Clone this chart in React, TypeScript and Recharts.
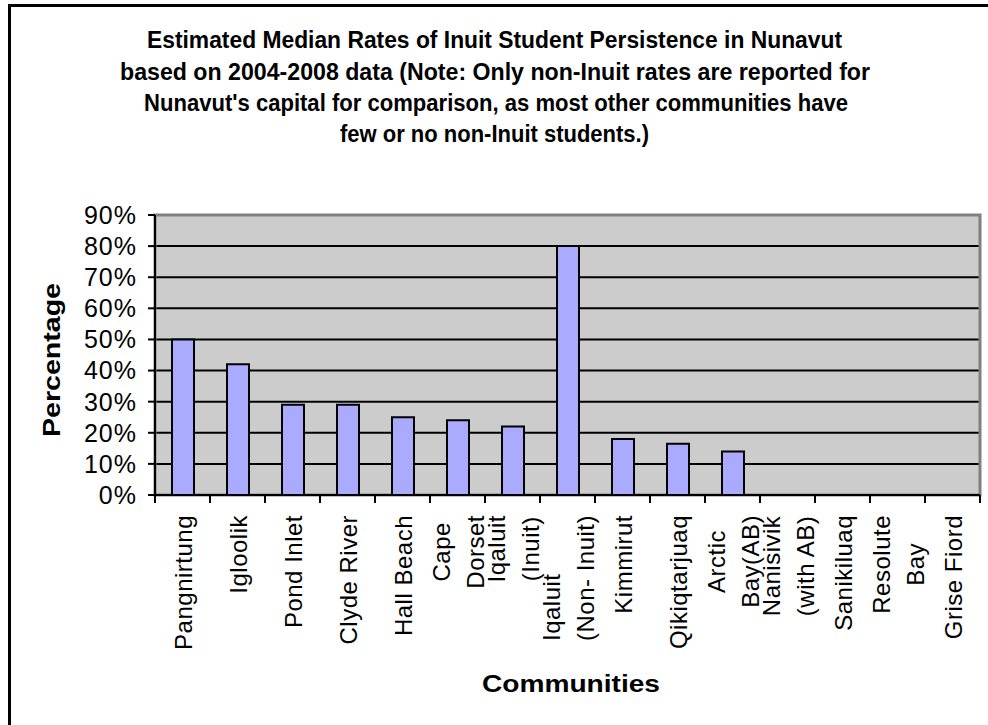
import { Bar, BarChart, CartesianGrid, ReferenceArea, XAxis, YAxis } from 'recharts'

const communities = [
  'Pangnirtung',
  'Igloolik',
  'Pond Inlet',
  'Clyde River',
  'Hall Beach',
  'Cape\nDorset',
  'Iqaluit\n(Inuit)',
  'Iqaluit\n(Non- Inuit)',
  'Kimmirut',
  'Qikiqtarjuaq',
  'Arctic\nBay(AB)',
  'Nanisivik\n(with AB)',
  'Sanikiluaq',
  'Resolute\nBay',
  'Grise Fiord',
]

const persistence = [50, 42, 29, 29, 25, 24, 22, 80, 18, 16.5, 14, 0, 0, 0, 0]

const percentTicks = [0, 10, 20, 30, 40, 50, 60, 70, 80, 90]

const titleLines = [
  'Estimated Median Rates of Inuit Student Persistence in Nunavut',
  'based on 2004-2008 data (Note: Only non-Inuit rates are reported for',
  "Nunavut's capital for comparison, as most other communities have",
  'few or no non-Inuit students.)',
]

// labels whose lines line up at the bottom instead of being centred
const startAligned = new Set(['Iqaluit\n(Non- Inuit)'])

const chartData = communities.map((name, i) => ({ name, value: persistence[i] }))

const W = 988
const H = 725
const margin = { top: 215, right: 8, bottom: 50, left: 85 }
const yAxisWidth = 70
const band = (W - margin.left - margin.right - yAxisWidth) / communities.length

const tickFont = '"Liberation Sans", Arial, sans-serif'
const tickSize = 24
const tickSpacing = 0.5

let ctx: CanvasRenderingContext2D | null = null
function textWidth(s: string) {
  if (!ctx) {
    ctx = document.createElement('canvas').getContext('2d')
  }
  if (!ctx) return s.length * 12
  ctx.font = `${tickSize}px ${tickFont}`
  return ctx.measureText(s).width + tickSpacing * s.length
}

function CategoryTick(props: any) {
  const { x, y, payload, index } = props
  const label: string = payload.value
  const lines = label.split('\n')
  const longest = Math.max(...lines.map(textWidth))
  const gap = 20
  const lineGap = 34
  const alignStart = startAligned.has(label)
  return (
    <g transform={`translate(${x},${y})`}>
      <line x1={-band / 2} y1={0} x2={-band / 2} y2={8} stroke="#000" strokeWidth={2} />
      {index === communities.length - 1 && (
        <line x1={band / 2} y1={0} x2={band / 2} y2={8} stroke="#000" strokeWidth={2} />
      )}
      {lines.map((line, i) => (
        <text
          key={line}
          transform="rotate(-90)"
          x={alignStart ? -(gap + longest) : -(gap + longest / 2)}
          y={(i - (lines.length - 1) / 2) * lineGap + 9}
          textAnchor={alignStart ? 'start' : 'middle'}
          fontFamily={tickFont}
          fontSize={tickSize}
          letterSpacing={tickSpacing}
          fill="#000"
        >
          {line}
        </text>
      ))}
    </g>
  )
}

export default function App() {
  return (
    <div style={{ position: 'absolute', left: 0, top: 0, width: W, height: H, background: '#fff' }}>
      <div
        style={{
          position: 'absolute',
          left: 8,
          top: 4,
          width: W - 8,
          height: H - 4,
          borderLeft: '3px solid #000',
          borderTop: '3px solid #000',
          boxSizing: 'border-box',
        }}
      />
      <div style={{ position: 'absolute', left: 0, top: 0 }}>
        <BarChart width={W} height={H} data={chartData} margin={margin} barSize={22}>
          <CartesianGrid vertical={false} stroke="#000" strokeWidth={2} fill="#CCCCCC" />
          <ReferenceArea y1={0} y2={90} fill="none" stroke="#808080" strokeWidth={3} />
          <XAxis
            dataKey="name"
            interval={0}
            height={180}
            tickSize={0}
            tickMargin={0}
            tickLine={false}
            axisLine={{ stroke: '#000', strokeWidth: 2 }}
            tick={<CategoryTick />}
          />
          <YAxis
            width={yAxisWidth}
            domain={[0, 90]}
            ticks={percentTicks}
            interval={0}
            tickFormatter={(v) => `${v}%`}
            tickSize={7}
            tickMargin={11}
            axisLine={{ stroke: '#000', strokeWidth: 2 }}
            tickLine={{ stroke: '#000', strokeWidth: 2 }}
            tick={{ fill: '#000', fontSize: 25, fontFamily: tickFont, letterSpacing: 1 }}
          />
          <Bar dataKey="value" fill="#AAAAFF" stroke="#000" strokeWidth={2} isAnimationActive={false} />
        </BarChart>
      </div>
      <svg
        width={W}
        height={H}
        style={{ position: 'absolute', left: 0, top: 0, pointerEvents: 'none' }}
      >
        <g fontFamily="'Liberation Sans Narrow', 'Liberation Sans', Arial, sans-serif" fontWeight="bold" fontSize={23} fill="#000">
          <text x={147} y={48} textLength={695} lengthAdjust="spacingAndGlyphs">{titleLines[0]}</text>
          <text x={120} y={80} textLength={750} lengthAdjust="spacingAndGlyphs">{titleLines[1]}</text>
          <text x={144} y={111} textLength={704} lengthAdjust="spacingAndGlyphs">{titleLines[2]}</text>
          <text x={340} y={142} textLength={309} lengthAdjust="spacingAndGlyphs">{titleLines[3]}</text>
        </g>
        <text
          transform="rotate(-90)"
          x={-437}
          y={60}
          fontFamily={tickFont}
          fontWeight="bold"
          fontSize={23}
          textLength={154}
          lengthAdjust="spacingAndGlyphs"
        >
          Percentage
        </text>
        <text
          x={482}
          y={692}
          fontFamily={tickFont}
          fontWeight="bold"
          fontSize={23}
          textLength={178}
          lengthAdjust="spacingAndGlyphs"
        >
          Communities
        </text>
      </svg>
    </div>
  )
}
